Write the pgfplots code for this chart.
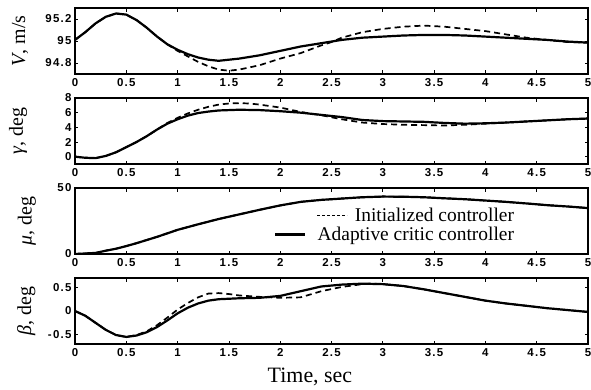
\documentclass[border=0pt]{standalone}
\usepackage{fontspec}
\setmainfont{Liberation Serif}
\newfontfamily\tickfont[LetterSpace=11]{Liberation Sans}
\usepackage{pgfplots}
\pgfplotsset{compat=1.18}
\pgfplotsset{
  panel/.style={
    scale only axis, width=513bp, height=66bp,
    xmin=0, xmax=5,
    xtick={0,0.5,1,1.5,2,2.5,3,3.5,4,4.5,5},
    tick label style={font=\tickfont\bfseries\fontsize{11.5}{12}\selectfont},
    /pgf/number format/assume math mode=true,
    axis line style={line width=1.1bp},
    major tick length=3.5bp,
    every tick/.style={black, line width=0.8bp},
    xticklabel style={yshift=-1bp},
    label style={font=\fontsize{20}{22}\selectfont},
  },
  sol/.style={black, line width=2.2bp},
  das/.style={black, line width=1.7bp, dash pattern=on 6bp off 4bp},
}
\begin{document}
\begin{tikzpicture}
\useasboundingbox (-75bp,-382bp) rectangle (516bp,8bp);
% Panel 1: V
\begin{axis}[panel, at={(0bp,0bp)}, anchor=north west,
  ymin=94.7, ymax=95.3, ytick={94.8,95,95.2},
  ylabel={\textit{V}, m/s},
  ylabel style={at={(axis description cs:-0.107,0.5)}, anchor=center}]
\addplot[das] coordinates {
(0,95.01)(0.1,95.08)(0.2,95.16)(0.3,95.22)(0.4,95.25)(0.5,95.24)(0.6,95.19)(0.7,95.12)(0.8,95.04)(0.9,94.97)
(1.0,94.91)(1.1,94.86)(1.2,94.81)(1.3,94.77)(1.4,94.74)(1.5,94.73)(1.6,94.74)(1.8,94.78)(2.0,94.84)(2.2,94.89)
(2.4,94.96)(2.5,94.99)(2.6,95.03)(2.8,95.08)(3.0,95.11)(3.2,95.13)(3.4,95.14)(3.6,95.13)(3.8,95.11)(4.0,95.09)
(4.2,95.06)(4.4,95.03)(4.6,95.01)(4.8,94.99)(5.0,94.985)};
\addplot[sol] coordinates {
(0,95.01)(0.1,95.08)(0.2,95.16)(0.3,95.22)(0.4,95.25)(0.5,95.24)(0.6,95.19)(0.7,95.12)(0.8,95.04)(0.9,94.97)
(1.0,94.92)(1.1,94.88)(1.2,94.85)(1.3,94.83)(1.4,94.82)(1.5,94.83)(1.6,94.84)(1.8,94.87)(2.0,94.91)(2.2,94.95)
(2.4,94.98)(2.6,95.01)(2.8,95.03)(3.0,95.04)(3.2,95.05)(3.4,95.055)(3.6,95.055)(3.8,95.05)(4.0,95.04)
(4.2,95.03)(4.4,95.02)(4.6,95.01)(4.8,94.995)(5.0,94.985)};
\end{axis}
% Panel 2: gamma
\begin{axis}[panel, at={(0bp,-90bp)}, anchor=north west,
  ymin=-1, ymax=8, ytick={0,2,4,6,8},
  ylabel={\textit{γ}, deg},
  ylabel style={at={(axis description cs:-0.111,0.5)}, anchor=center}]
\addplot[das] coordinates {
(0,0)(0.1,-0.15)(0.2,-0.2)(0.3,0.1)(0.4,0.6)(0.5,1.3)(0.6,2.0)(0.7,2.8)(0.8,3.7)(0.9,4.6)
(1.0,5.3)(1.1,5.9)(1.2,6.4)(1.3,6.8)(1.4,7.1)(1.5,7.25)(1.6,7.3)(1.7,7.25)(1.8,7.1)(2.0,6.7)(2.2,6.1)
(2.4,5.65)(2.6,5.1)(2.8,4.65)(3.0,4.45)(3.2,4.35)(3.4,4.3)(3.6,4.25)(3.8,4.35)(4.0,4.5)(4.2,4.65)
(4.4,4.8)(4.6,4.95)(4.8,5.1)(5.0,5.2)};
\addplot[sol] coordinates {
(0,0)(0.1,-0.15)(0.2,-0.2)(0.3,0.1)(0.4,0.6)(0.5,1.3)(0.6,2.0)(0.7,2.8)(0.8,3.7)(0.9,4.5)
(1.0,5.1)(1.1,5.6)(1.2,5.95)(1.3,6.15)(1.4,6.3)(1.6,6.4)(1.8,6.35)(2.0,6.2)(2.2,6.0)
(2.4,5.7)(2.6,5.4)(2.8,5.0)(3.0,4.85)(3.2,4.8)(3.4,4.75)(3.6,4.6)(3.8,4.5)(4.0,4.55)(4.2,4.65)
(4.4,4.8)(4.6,4.95)(4.8,5.1)(5.0,5.2)};
\end{axis}
% Panel 3: mu
\begin{axis}[panel, at={(0bp,-180bp)}, anchor=north west,
  ymin=0, ymax=50, ytick={0,50},
  ylabel={\textit{μ}, deg},
  ylabel style={at={(axis description cs:-0.094,0.5)}, anchor=center},
  legend cell align=right,
  legend image code/.code={\draw[#1] (0bp,0bp) -- (30bp,0bp);},
  legend style={draw=none, fill=none, inner sep=0pt,
    font=\fontsize{19.5}{20}\selectfont,
    at={(axis description cs:0.86,0.44)}, anchor=east, row sep=0bp,
    column sep=9bp}]
\addplot[das, legend image post style={xshift=42bp, overlay, dash pattern=on 3bp off 2bp}] coordinates {
(0,0)(0.2,0.8)(0.3,2.5)(0.4,4)(0.5,6)(0.6,8.2)(0.8,13)(1.0,18.3)(1.2,22.5)(1.4,26.5)(1.6,30)(1.8,33.5)
(2.0,36.8)(2.2,39.5)(2.4,41)(2.6,42)(2.8,43)(3.0,43.5)(3.2,43.4)(3.4,43)(3.6,42.2)(3.8,41.5)(4.0,40.5)
(4.2,39.5)(4.4,38.3)(4.6,37)(4.8,36)(5.0,34.8)};
\addplot[sol, legend image post style={line width=3bp}] coordinates {
(0,0)(0.2,0.8)(0.3,2.5)(0.4,4)(0.5,6)(0.6,8.2)(0.8,13)(1.0,18.3)(1.2,22.5)(1.4,26.5)(1.6,30)(1.8,33.5)
(2.0,36.8)(2.2,39.5)(2.4,41)(2.6,42)(2.8,43)(3.0,43.5)(3.2,43.4)(3.4,43)(3.6,42.2)(3.8,41.5)(4.0,40.5)
(4.2,39.5)(4.4,38.3)(4.6,37)(4.8,36)(5.0,34.8)};
\legend{Initialized controller, Adaptive critic controller}
\end{axis}
% Panel 4: beta
\begin{axis}[panel, at={(0bp,-270bp)}, anchor=north west,
  ymin=-0.7, ymax=0.7, ytick={-0.5,0,0.5},
  ylabel={\textit{β}, deg},
  ylabel style={at={(axis description cs:-0.095,0.5)}, anchor=center},
  xlabel={Time, sec},
  xlabel style={at={(axis description cs:0.458,-0.36)}, anchor=north, inner sep=0pt,
    font=\fontsize{22}{24}\selectfont}]
\addplot[das] coordinates {
(0,0)(0.1,-0.1)(0.2,-0.25)(0.3,-0.4)(0.4,-0.51)(0.5,-0.55)(0.6,-0.51)(0.7,-0.43)(0.8,-0.3)(0.9,-0.14)
(1.0,0.03)(1.1,0.17)(1.2,0.29)(1.3,0.37)(1.4,0.38)(1.5,0.36)(1.6,0.33)(1.8,0.3)(2.0,0.28)(2.2,0.29)
(2.4,0.42)(2.6,0.51)(2.8,0.57)(2.9,0.58)(3.0,0.57)(3.2,0.53)(3.4,0.46)(3.6,0.38)(3.8,0.3)(4.0,0.22)
(4.2,0.16)(4.4,0.11)(4.6,0.06)(4.8,0.02)(5.0,-0.02)};
\addplot[sol] coordinates {
(0,0)(0.1,-0.1)(0.2,-0.25)(0.3,-0.4)(0.4,-0.51)(0.5,-0.55)(0.6,-0.52)(0.7,-0.45)(0.8,-0.34)(0.9,-0.2)
(1.0,-0.05)(1.1,0.07)(1.2,0.16)(1.3,0.22)(1.4,0.25)(1.6,0.27)(1.8,0.28)(2.0,0.32)(2.2,0.42)
(2.4,0.52)(2.6,0.56)(2.8,0.58)(3.0,0.57)(3.2,0.53)(3.4,0.46)(3.6,0.38)(3.8,0.3)(4.0,0.22)
(4.2,0.16)(4.4,0.11)(4.6,0.06)(4.8,0.02)(5.0,-0.02)};
\end{axis}
\end{tikzpicture}
\end{document}
